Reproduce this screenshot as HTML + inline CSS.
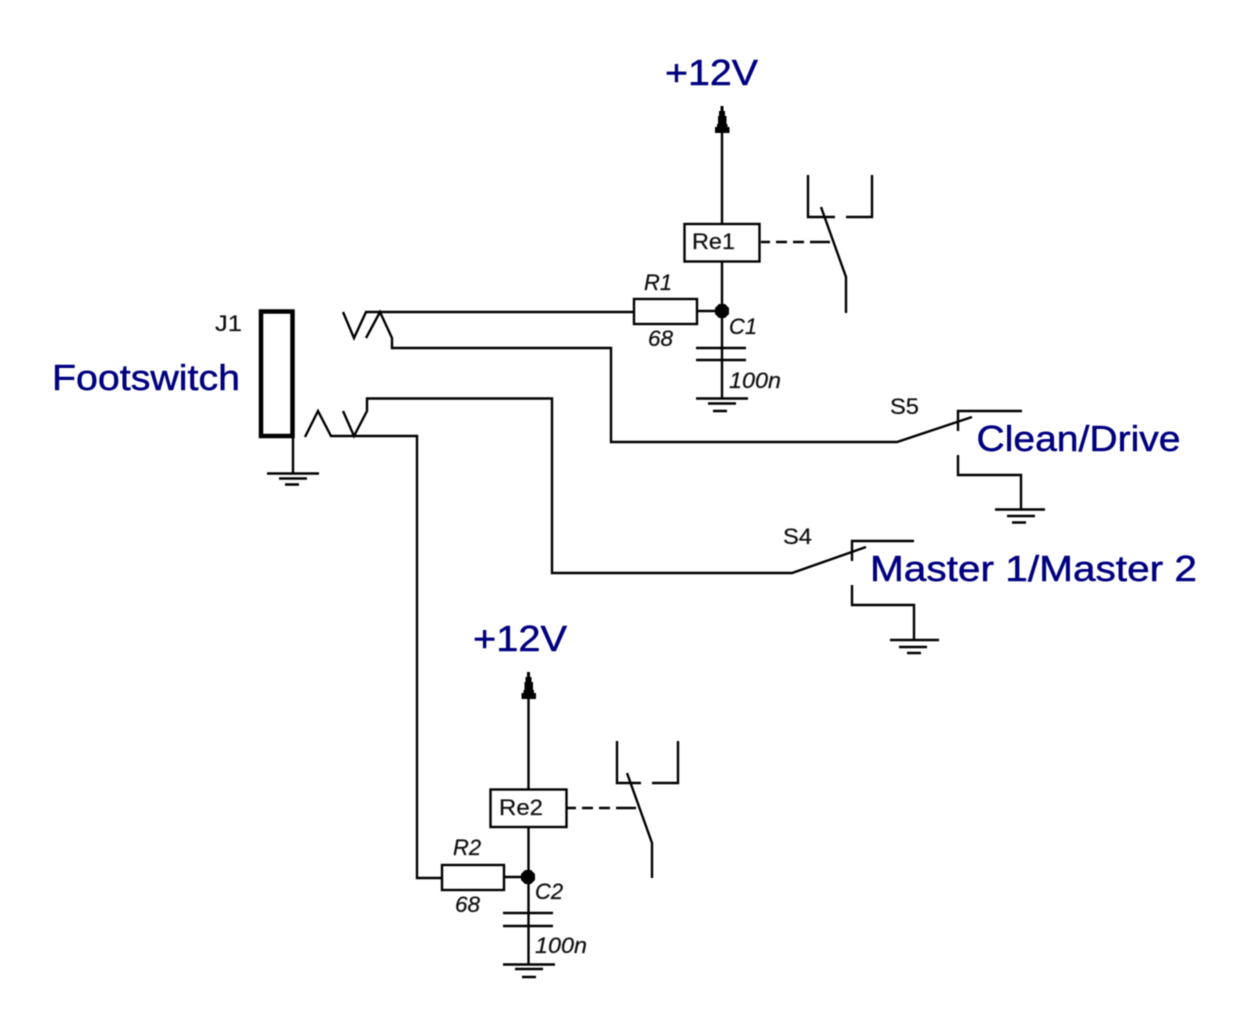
<!DOCTYPE html>
<html>
<head>
<meta charset="utf-8">
<style>
html,body{margin:0;padding:0;background:#fff;width:1251px;height:1024px;overflow:hidden}
svg{display:block;position:absolute;left:0;top:0}
text{font-family:"Liberation Sans",sans-serif}
.b{fill:#000080;stroke:#000080;stroke-width:.5px;font-size:36px}
.k{fill:#111;stroke:#111;stroke-width:.2px;font-size:22px}
.i{fill:#111;stroke:#111;stroke-width:.25px;font-size:22px;font-style:italic}
</style>
</head>
<body>
<svg width="1251" height="1024" viewBox="0 0 1251 1024" xmlns="http://www.w3.org/2000/svg">
<defs><filter id="s" x="-5%" y="-5%" width="110%" height="110%"><feGaussianBlur stdDeviation="0.5"/></filter></defs>
<g filter="url(#s)">
<g fill="none" stroke="#000" stroke-width="2.4">
<!-- J1 -->
<rect x="261" y="311.500" width="31.500" height="124.500" stroke-width="4.500"/>
<path d="M293 436V473M267 473.500H319M279 478.500H307M285 484.500H299"/>
<!-- Jack wires -->
<path d="M343 312L354 338L366 312H634"/>
<path d="M366 338L380 312L392 338V348H611V442H897L972 417"/>
<path d="M305 437L318 411L331 436H417V878H442"/>
<path d="M343 411L354 436L367 411V398.500H552V573H792L866 547"/>
<!-- Re1 -->
<path d="M722 130V224M722 261V398"/>
<rect x="684.500" y="224" width="75" height="37.500"/>
<rect x="634" y="299" width="63" height="25"/>
<path d="M697 311H722"/>
<path d="M696 348H746M696 360H746M696 398.500H748M708 403.500H736M713 411H727"/>
<path d="M808 175V217H835M846 217H872V175"/>
<path d="M821 207L846 277V313"/>
<path d="M761 242H770M776 242H787M793 242H804M810 242H830"/>
<!-- Re2 -->
<path d="M528.500 695V789M528.500 827V964"/>
<rect x="490.500" y="789.500" width="76" height="37.500"/>
<rect x="442" y="865" width="62" height="25"/>
<path d="M504 877H528"/>
<path d="M503 913H553M503 926H553M503 964.500H555M515 969H543M522 977H536"/>
<path d="M617 741V783H641M652 783H678V741"/>
<path d="M627 773L652 843V878"/>
<path d="M567 808H576M582 808H593M599 808H610M616 808H636"/>
<!-- S5 -->
<path d="M958 431V411H1022M958 455V475H1021V509"/>
<path d="M995 509.500H1045M1007 516H1035M1012 522.500H1026"/>
<!-- S4 -->
<path d="M852 561V541H914M852 585V605H914V640"/>
<path d="M890 640H939M899 647H927M907 653H921"/>
</g>
<!-- junctions -->
<path d="M719 304H725L729 308V314L725 318H719L715 314V308Z" fill="#000"/>
<path d="M525 870H531L535 874V880L531 884H525L521 880V874Z" fill="#000"/>
<!-- arrowheads -->
<path d="M720.500 106H723.500V111H725V116H726.500V124H727.500V127H729.500V133H715V127H717V124H718V116H719V111H720.500Z" fill="#000"/>
<path d="M527 672H530V677H531.500V682H533V690H534V693H536V699H521.500V693H523.500V690H524.500V682H525.500V677H527Z" fill="#000"/>
<!-- labels -->
<text class="b" x="665" y="85" textLength="93" lengthAdjust="spacingAndGlyphs">+12V</text>
<text class="b" x="473" y="651" textLength="94" lengthAdjust="spacingAndGlyphs">+12V</text>
<text class="b" x="52" y="390" textLength="188" lengthAdjust="spacingAndGlyphs">Footswitch</text>
<text class="b" x="976.500" y="451" textLength="204" lengthAdjust="spacingAndGlyphs">Clean/Drive</text>
<text class="b" x="870" y="581" textLength="327" lengthAdjust="spacingAndGlyphs">Master 1/Master 2</text>
<text class="k" x="215" y="331" textLength="27" lengthAdjust="spacingAndGlyphs">J1</text>
<text class="k" x="890" y="414" textLength="29" lengthAdjust="spacingAndGlyphs">S5</text>
<text class="k" x="783" y="544" textLength="29" lengthAdjust="spacingAndGlyphs">S4</text>
<text class="k" x="692" y="249" textLength="43" lengthAdjust="spacingAndGlyphs">Re1</text>
<text class="k" x="499" y="815" textLength="44" lengthAdjust="spacingAndGlyphs">Re2</text>
<text class="i" x="644" y="290" textLength="28" lengthAdjust="spacingAndGlyphs">R1</text>
<text class="i" x="648" y="346" textLength="25" lengthAdjust="spacingAndGlyphs">68</text>
<text class="i" x="729" y="334" textLength="28" lengthAdjust="spacingAndGlyphs">C1</text>
<text class="i" x="729" y="388" textLength="52" lengthAdjust="spacingAndGlyphs">100n</text>
<text class="i" x="453" y="855" textLength="28" lengthAdjust="spacingAndGlyphs">R2</text>
<text class="i" x="455" y="912" textLength="25" lengthAdjust="spacingAndGlyphs">68</text>
<text class="i" x="535" y="899" textLength="28" lengthAdjust="spacingAndGlyphs">C2</text>
<text class="i" x="535" y="953" textLength="52" lengthAdjust="spacingAndGlyphs">100n</text>
</g>
</svg>
</body>
</html>
